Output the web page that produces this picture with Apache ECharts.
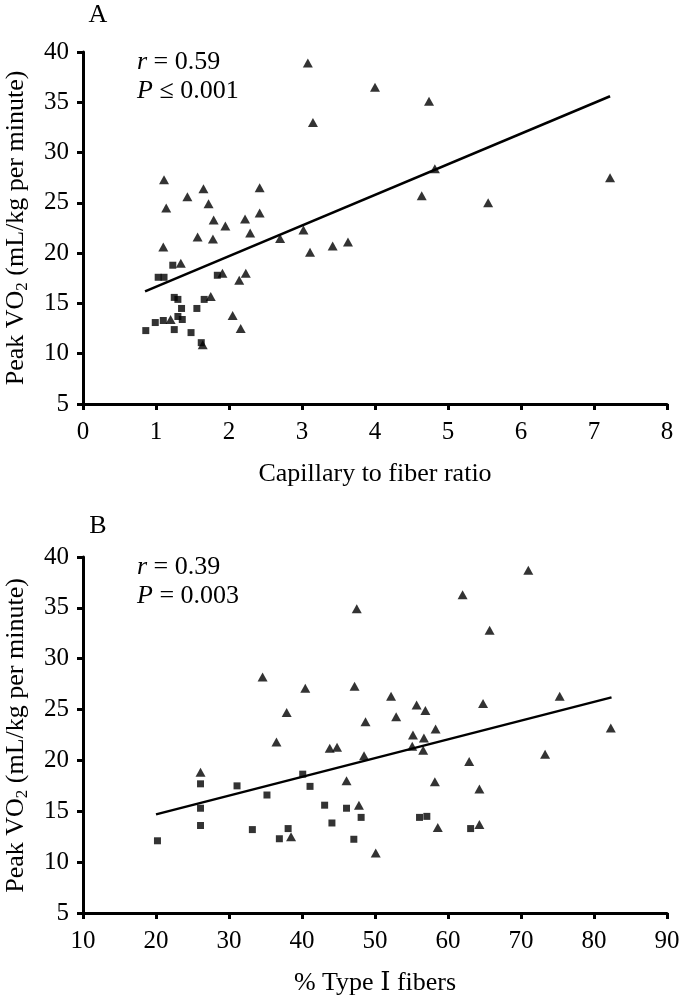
<!DOCTYPE html>
<html><head><meta charset="utf-8">
<script src="https://cdn.jsdelivr.net/npm/echarts@6/dist/echarts.min.js"></script>
<style>html,body{margin:0;padding:0;background:#fff}#c{width:684px;height:997px}</style>
</head><body><div id="c"></div>
<script>
// Panel A: capillary to fiber ratio vs peak VO2
const aTriangles = [
  [1.11,27.3],[1.65,26.4],[2.42,26.5],[1.43,25.6],[1.14,24.5],[1.72,24.9],[2.42,24.0],
  [1.79,23.3],[1.95,22.7],[2.22,23.4],[2.29,22.0],[1.57,21.6],[1.78,21.4],[2.70,21.45],
  [1.10,20.6],[1.34,19.0],[1.91,18.0],[2.23,18.0],[2.14,17.3],[1.75,15.7],[1.20,13.4],
  [2.05,13.8],[2.16,12.5],[1.64,10.9],
  [3.08,38.9],[4.00,36.5],[4.74,35.1],[3.15,33.0],[4.82,28.4],[4.64,25.7],[5.55,25.0],
  [7.22,27.5],[3.02,22.3],[3.11,20.1],[3.42,20.7],[3.63,21.1]
];
const aSquares = [
  [0.86,12.3],[0.99,13.1],[1.10,13.3],[1.03,17.6],[1.11,17.6],[1.23,18.8],[1.25,15.6],
  [1.30,15.4],[1.35,14.5],[1.30,13.7],[1.36,13.4],[1.25,12.4],[1.48,12.1],[1.56,14.5],
  [1.66,15.4],[1.62,11.1],[1.84,17.8]
];
const aFitLine = [[0.85,16.2],[7.22,35.6]];
const aXTicks = {min:0, max:8, interval:1};

// Panel B: % type I fibers vs peak VO2
const bTriangles = [
  [26.1,18.85],[34.6,28.2],[36.5,21.8],
  [71.0,38.7],[62.0,36.3],[47.5,34.9],[65.7,32.8],[40.45,27.1],[47.2,27.3],[37.9,24.7],
  [52.2,26.3],[55.7,25.45],[56.9,24.9],[64.8,25.6],[75.3,26.3],[48.7,23.8],[52.9,24.3],
  [82.3,23.2],[58.3,23.1],[55.2,22.5],[56.7,22.2],[55.1,21.4],[56.6,21.0],[43.8,21.2],
  [44.8,21.3],[48.5,20.45],[73.3,20.6],[62.9,19.9],[46.1,18.0],[58.2,17.9],[64.3,17.2],
  [47.8,15.6],[58.6,13.4],[64.3,13.7],[38.5,12.5],[50.1,10.9]
];
const bSquares = [
  [20.2,12.1],[26.1,17.7],[26.1,15.3],[26.1,13.6],[31.1,17.5],[35.2,16.6],[33.2,13.2],
  [36.9,12.3],[38.1,13.3],[40.1,18.65],[41.1,17.45],[43.1,15.6],[46.1,15.3],[44.1,13.85],
  [48.1,14.4],[47.1,12.25],[56.1,14.4],[57.1,14.5],[63.1,13.3]
];
const bFitLine = [[20.0,14.7],[82.4,26.2]];
const bXTicks = {min:10, max:90, interval:10};

const yTicks = {min:5, max:40, interval:5};
const xTitles = ['Capillary to fiber ratio', '% Type \u2160 fibers'];
const panelLetters = ['A', 'B'];
const statsR = ['0.59', '0.39'];
const statsP = ['\u2264 0.001', '= 0.003'];

const FF = '"Liberation Serif", "DejaVu Serif", "Times New Roman", serif';
const chart = echarts.init(document.getElementById('c'), null, {renderer:'canvas'});

const grids = [
  {left:83, top:52, width:584, height:352},
  {left:83, top:557, width:584, height:357}
];

function xAxisCfg(i, t){
  return {
    type:'value', gridIndex:i, min:t.min, max:t.max, interval:t.interval,
    axisLine:{show:true, onZero:false, lineStyle:{color:'#000', width:3}},
    axisTick:{show:true, length:6, lineStyle:{color:'#000', width:3}},
    axisLabel:{color:'#000', fontFamily:FF, fontSize:25, margin:16},
    splitLine:{show:false},
    name: xTitles[i], nameLocation:'middle', nameGap:57,
    nameTextStyle:{color:'#000', fontFamily:FF, fontSize:26}
  };
}
function yAxisCfg(i){
  return {
    type:'value', gridIndex:i, min:yTicks.min, max:yTicks.max, interval:yTicks.interval,
    axisLine:{show:true, onZero:false, lineStyle:{color:'#000', width:3}},
    axisTick:{show:true, length:6, lineStyle:{color:'#000', width:3}},
    axisLabel:{color:'#000', fontFamily:FF, fontSize:25, margin:14},
    splitLine:{show:false}
  };
}

const yTitleRich = {
  b:{fontFamily:FF, fontSize:26, fill:'#000', lineHeight:30},
  s:{fontFamily:FF, fontSize:17, fill:'#000', lineHeight:17, verticalAlign:'bottom'}
};
const statRich = {
  i:{fontFamily:FF, fontSize:26, fontStyle:'italic', fill:'#000'},
  n:{fontFamily:FF, fontSize:26, fill:'#000'}
};

const graphics = [];
grids.forEach((g, i) => {
  graphics.push({type:'text', x:98, y: i===0 ? 15 : 526,
    style:{text:panelLetters[i], font:'26px ' + FF, fill:'#000', align:'center', verticalAlign:'middle'}});
  graphics.push({type:'text', x:16, y:g.top + g.height/2, rotation:Math.PI/2,
    style:{text:'{b|Peak VO}{s|2}{b| (mL/kg per minute)}', rich:yTitleRich, align:'center', verticalAlign:'middle', fill:'#000'}});
  graphics.push({type:'text', x:137, y: g.top + 10,
    style:{text:'{i|r}{n| = ' + statsR[i] + '}', rich:statRich, align:'left', verticalAlign:'middle', fill:'#000'}});
  graphics.push({type:'text', x:137, y: g.top + 39,
    style:{text:'{i|P}{n| ' + statsP[i] + '}', rich:statRich, align:'left', verticalAlign:'middle', fill:'#000'}});
});

function scatter(i, data, shape, size){
  return {type:'scatter', xAxisIndex:i, yAxisIndex:i, data:data, symbol:shape, symbolSize:size,
    itemStyle:{color:'#000'}, silent:true, z:3};
}
function fit(i, data){
  return {type:'line', xAxisIndex:i, yAxisIndex:i, data:data, symbol:'none',
    lineStyle:{color:'#000', width:2.5}, silent:true, z:2};
}

chart.setOption({
  animation:false,
  backgroundColor:'#fff',
  grid: grids,
  xAxis:[xAxisCfg(0, aXTicks), xAxisCfg(1, bXTicks)],
  yAxis:[yAxisCfg(0), yAxisCfg(1)],
  graphic: graphics,
  series:[
    fit(0, aFitLine), scatter(0, aTriangles, 'triangle', [10,9]), scatter(0, aSquares, 'rect', 7),
    fit(1, bFitLine), scatter(1, bTriangles, 'triangle', [10,9]), scatter(1, bSquares, 'rect', 7)
  ]
});
</script>
</body></html>
